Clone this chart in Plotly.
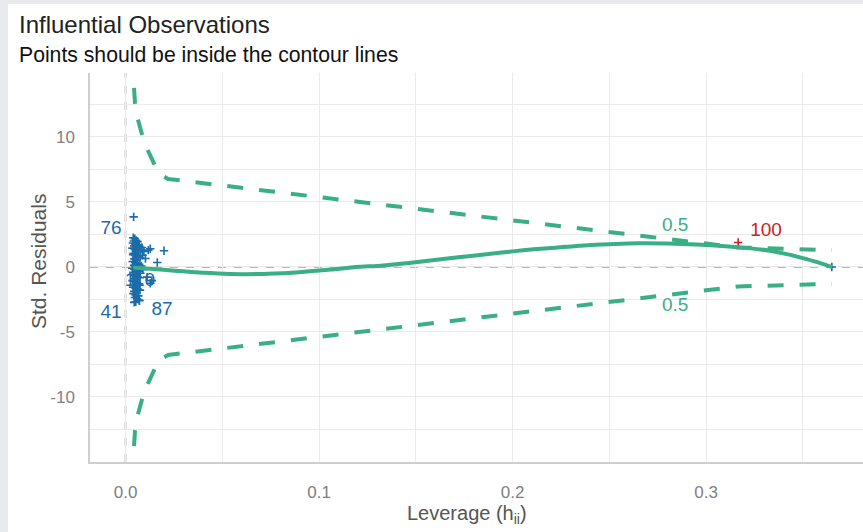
import plotly.graph_objects as go

# ---- observations: leverage vs. standardized residuals ----
lev_obs = [
    0.0040, 0.0048, 0.0055, 0.0043, 0.0062,
    0.0038, 0.0050, 0.0066, 0.0045, 0.0059, 0.0072, 0.0085,
    0.0036, 0.0047, 0.0054, 0.0068, 0.0079, 0.0095, 0.0118, 0.0199, 0.0128, 0.0061, 0.0042,
    0.0039, 0.0051, 0.0064, 0.0076, 0.0088, 0.0046, 0.0057, 0.0103,
    0.0037, 0.0049, 0.0060, 0.0071, 0.0164, 0.0044, 0.0082, 0.0053,
    0.0035, 0.0046, 0.0058, 0.0069, 0.0090, 0.0041, 0.0052, 0.0077,
    0.0038, 0.0049, 0.0062, 0.0074, 0.0044, 0.0056, 0.0112,
    0.0036, 0.0047, 0.0059, 0.0070, 0.0136, 0.0128, 0.0042, 0.0054,
    0.0039, 0.0050, 0.0063, 0.0075, 0.0045, 0.0057,
    0.0041, 0.0052, 0.0066, 0.0048, 0.0060, 0.0070, 0.0053,
    0.0042, 0.0045, 0.0072, 0.3650,
]
res_obs = [
    2.25, 2.18, 2.05, 2.00, 1.95,
    1.85, 1.78, 1.70, 1.62, 1.55, 1.60, 1.50,
    1.45, 1.38, 1.30, 1.25, 1.35, 1.20, 1.30, 1.25, 1.40, 1.10, 1.05,
    0.95, 0.88, 0.80, 0.72, 0.90, 0.62, 0.55, 0.65,
    0.42, 0.35, 0.28, 0.20, 0.35, 0.12, 0.08, 0.05,
    -0.10, -0.18, -0.25, -0.32, -0.20, -0.40, -0.45, -0.48,
    -0.60, -0.68, -0.75, -0.82, -0.90, -0.95, -0.78,
    -1.05, -1.12, -1.20, -1.30, -1.05, -1.25, -1.40, -1.45,
    -1.55, -1.62, -1.70, -1.78, -1.88, -1.95,
    -2.05, -2.15, -2.22, -2.35, -2.45, -2.55, -2.68,
    3.85, -2.72, -2.60, 0.00,
]

# influential observation
lev_out = [0.3166]
res_out = [1.88]

# labelled observations
lab_text = ["76", "41", "87", "110"]
lab_lev = [-0.0075, -0.0075, 0.0189, 0.0075]
lab_res = [2.92, -3.54, -3.30, -1.08]
out_lab_lev = [0.331]
out_lab_res = [2.78]

# smoothed trend of residuals over leverage
lev_fit = [0.004, 0.018, 0.036, 0.062, 0.088, 0.106, 0.119, 0.132, 0.141, 0.152,
           0.163, 0.172, 0.182, 0.191, 0.200, 0.211, 0.222, 0.233, 0.253, 0.265,
           0.280, 0.295, 0.310, 0.322, 0.333, 0.343, 0.352, 0.359, 0.365]
res_fit = [-0.05, -0.20, -0.40, -0.55, -0.42, -0.20, 0.00, 0.10, 0.23, 0.40,
           0.59, 0.75, 0.90, 1.05, 1.20, 1.36, 1.48, 1.62, 1.77, 1.82,
           1.80, 1.72, 1.60, 1.45, 1.25, 0.95, 0.60, 0.30, 0.00]

# Cook's distance = 0.5 contour (magnitude, drawn above and below zero)
lev_cook = [0.0044, 0.0049, 0.0062, 0.0080, 0.0096, 0.0127, 0.0163, 0.0194, 0.0220, 0.3166, 0.3650]
cook_mag = [13.77, 12.60, 11.46, 10.40, 9.60, 8.60, 7.46, 7.00, 6.77, 1.50, 1.30]
cook_label = "0.5"
cook_lab_lev = 0.284
cook_lab_res = [3.15, -3.0]

x_ticks = [0.0, 0.1, 0.2, 0.3]
x_ticklabels = ["0.0", "0.1", "0.2", "0.3"]
y_ticks = [-10, -5, 0, 5, 10]
y_ticklabels = ["-10", "-5", "0", "5", "10"]

GREEN = "#3aaf85"
BLUE = "#1b6ca8"
RED = "#cd201f"
GRID = "#ebebeb"
FONT = "Liberation Sans, Arial, sans-serif"

fig = go.Figure()

# contour lines
for sign in (1, -1):
    fig.add_trace(go.Scatter(
        x=lev_cook, y=[sign * v for v in cook_mag], mode="lines",
        line=dict(color=GREEN, width=4, dash="16px,16px"),
        hoverinfo="skip", showlegend=False))

# points
fig.add_trace(go.Scatter(
    x=lev_obs, y=res_obs, mode="markers",
    marker=dict(symbol="cross-thin", size=6, line=dict(color=BLUE, width=1.6)),
    showlegend=False))
fig.add_trace(go.Scatter(
    x=lev_out, y=res_out, mode="markers",
    marker=dict(symbol="cross-thin", size=6, line=dict(color=RED, width=1.6)),
    showlegend=False))

# smooth line on top of the points
fig.add_trace(go.Scatter(
    x=lev_fit, y=res_fit, mode="lines",
    line=dict(color=GREEN, width=4, shape="spline", smoothing=0.6),
    showlegend=False))

# point labels
fig.add_trace(go.Scatter(
    x=lab_lev, y=lab_res, mode="text", text=lab_text,
    textfont=dict(family=FONT, size=19, color=BLUE), showlegend=False))
fig.add_trace(go.Scatter(
    x=out_lab_lev, y=out_lab_res, mode="text", text=["100"],
    textfont=dict(family=FONT, size=19, color=RED), showlegend=False))
fig.add_trace(go.Scatter(
    x=[cook_lab_lev, cook_lab_lev], y=cook_lab_res, mode="text",
    text=[cook_label, cook_label],
    textfont=dict(family=FONT, size=19, color=GREEN), showlegend=False))

# reference lines at zero
fig.add_shape(type="line", xref="x", yref="paper", x0=0, x1=0, y0=0, y1=1,
              line=dict(color="#a0a0a0", width=1.6, dash="8px,8px"), layer="below")
fig.add_shape(type="line", xref="paper", yref="y", x0=0, x1=1, y0=0, y1=0,
              line=dict(color="#a0a0a0", width=1.6, dash="8px,8px"), layer="below")

# light frame at the left and top edge
PL, PT, PW, PH = 90, 73, 773, 389
def px(xp):
    return (xp - PL) / PW
def py(yp):
    return (PT + PH - yp) / PH
frame = "#e8eaee"
fig.add_shape(type="rect", xref="paper", yref="paper", x0=px(0), x1=px(8), y0=py(532), y1=py(0),
              fillcolor=frame, line=dict(width=0))
fig.add_shape(type="rect", xref="paper", yref="paper", x0=px(0), x1=px(863), y0=py(4), y1=py(0),
              fillcolor=frame, line=dict(width=0))

# titles
fig.add_annotation(text="Influential Observations", xref="paper", yref="paper",
                   x=px(17), y=py(25), xanchor="left", yanchor="middle", showarrow=False,
                   font=dict(family=FONT, size=24, color="#222222"))
fig.add_annotation(text="Points should be inside the contour lines", xref="paper", yref="paper",
                   x=px(17), y=py(54), xanchor="left", yanchor="middle", showarrow=False,
                   font=dict(family=FONT, size=21.2, color="#111111"))
fig.add_annotation(text="Leverage (h<sub>ii</sub>)", xref="paper", yref="paper",
                   x=px(467), y=py(514), xanchor="center", yanchor="middle", showarrow=False,
                   font=dict(family=FONT, size=20, color="#555555"))
fig.add_annotation(text="Std. Residuals", xref="paper", yref="paper", textangle=-90,
                   x=px(38), y=py(262), xanchor="center", yanchor="middle", showarrow=False,
                   font=dict(family=FONT, size=21, color="#555555"))

fig.update_xaxes(
    range=[-0.01835, 0.3811], tickvals=x_ticks, ticktext=x_ticklabels,
    showgrid=True, gridcolor=GRID, gridwidth=1.3, zeroline=False,
    minor=dict(dtick=0.05, tick0=0, showgrid=True, gridcolor=GRID, gridwidth=1.3),
    showline=True, linecolor="#cfcfcf", linewidth=1.5,
    ticks="outside", ticklen=14, tickcolor="rgba(0,0,0,0)",
    tickfont=dict(family=FONT, size=17, color="#7f7f7f"))
fig.update_yaxes(
    range=[-15.0, 14.92], tickvals=y_ticks, ticktext=y_ticklabels,
    showgrid=True, gridcolor=GRID, gridwidth=1.3, zeroline=False,
    minor=dict(dtick=2.5, tick0=0, showgrid=True, gridcolor=GRID, gridwidth=1.3),
    showline=True, linecolor="#cfcfcf", linewidth=1.5,
    ticks="outside", ticklen=10, tickcolor="rgba(0,0,0,0)",
    tickfont=dict(family=FONT, size=17, color="#7f7f7f"))

fig.update_layout(
    width=863, height=532,
    margin=dict(l=PL, r=0, t=PT, b=532 - PT - PH),
    paper_bgcolor="white", plot_bgcolor="white",
    showlegend=False,
)

fig.write_html("out.html")
